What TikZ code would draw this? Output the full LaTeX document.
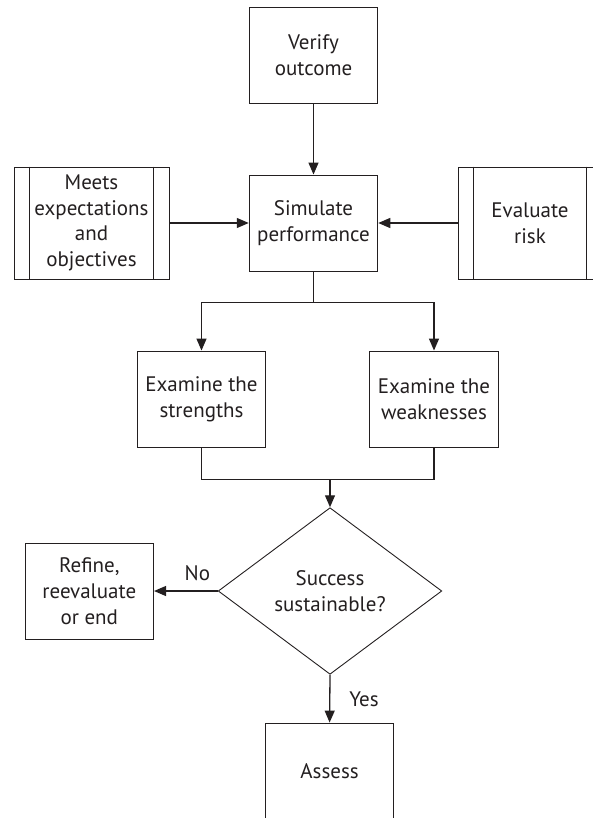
\documentclass[tikz,border=0pt]{standalone}
\usepackage{fontspec}
\setmainfont{PT Sans}
\usetikzlibrary{arrows.meta,shapes.geometric}
\definecolor{ink}{HTML}{231F20}
\begin{document}
\begin{tikzpicture}[x=1pt,y=-1pt,
  every node/.style={text=ink,font=\fontsize{21}{25.7}\selectfont,align=center,inner sep=0pt},
  box/.style={draw=ink,line width=0.9pt,minimum width=128.6pt,minimum height=96pt},
  procbox/.style={draw=ink,line width=0.9pt,minimum height=112pt},
  decision/.style={draw=ink,line width=0.9pt,diamond,aspect=1.342,minimum width=223.6pt,minimum height=166.6pt},
  link/.style={draw=ink,line width=1.3pt,-{Triangle[width=10pt,length=12pt]}},
  plain/.style={draw=ink,line width=1.3pt},
  lbl/.style={font=\fontsize{21}{25.7}\selectfont}]
\useasboundingbox (0,0) rectangle (593,818);
\begin{scope}
\clip (0,0) rectangle (593,818);
% process boxes
\node[box] (verify) at (313.5,55.2) {Verify\\outcome};
\node[box] (sim) at (313.5,223) {Simulate\\performance};
\node[procbox,minimum width=155pt] (meets) at (91.5,223) {Meets\\expectations\\and\\objectives};
\node[procbox,minimum width=144pt] (risk) at (530,223) {Evaluate\\risk};
\node[box] (str) at (201.5,399) {Examine the\\strengths};
\node[box] (weak) at (434,399) {Examine the\\weaknesses};
\node[decision] (dec) at (330,591) {Success\\sustainable?};
\node[box] (refine) at (89.3,591) {Refine,\\reevaluate\\or end};
\node[box] (assess) at (329.6,771) {Assess};
% inner bars of the predefined-process boxes
\foreach \n in {meets,risk}{
  \draw[ink,line width=0.9pt] ([xshift=16pt]\n.north west) -- ([xshift=16pt]\n.south west);
  \draw[ink,line width=0.9pt] ([xshift=-16pt]\n.north east) -- ([xshift=-16pt]\n.south east);
}
% connectors
\draw[link] (verify.south) -- (sim.north);
\draw[link] (meets.east) -- (sim.west);
\draw[link] (risk.west) -- (sim.east);
\coordinate (split) at (313.5,302.7);
\coordinate (merge) at (330,479.3);
\draw[plain] (sim.south) -- (split);
\draw[link] (split) -| (str.north);
\draw[link] (split) -| (weak.north);
\draw[plain] (str.south) |- (merge);
\draw[plain] (weak.south) |- (merge);
\draw[link] (merge) -- (dec.north);
\draw[link] (dec.west) -- (refine.east);
\draw[link] (dec.south) -- (assess.north);
\node[lbl] (no) at (197.4,573) {No};
\node[lbl] (yes) at (364,699) {Yes};
\end{scope}
\end{tikzpicture}
\end{document}
